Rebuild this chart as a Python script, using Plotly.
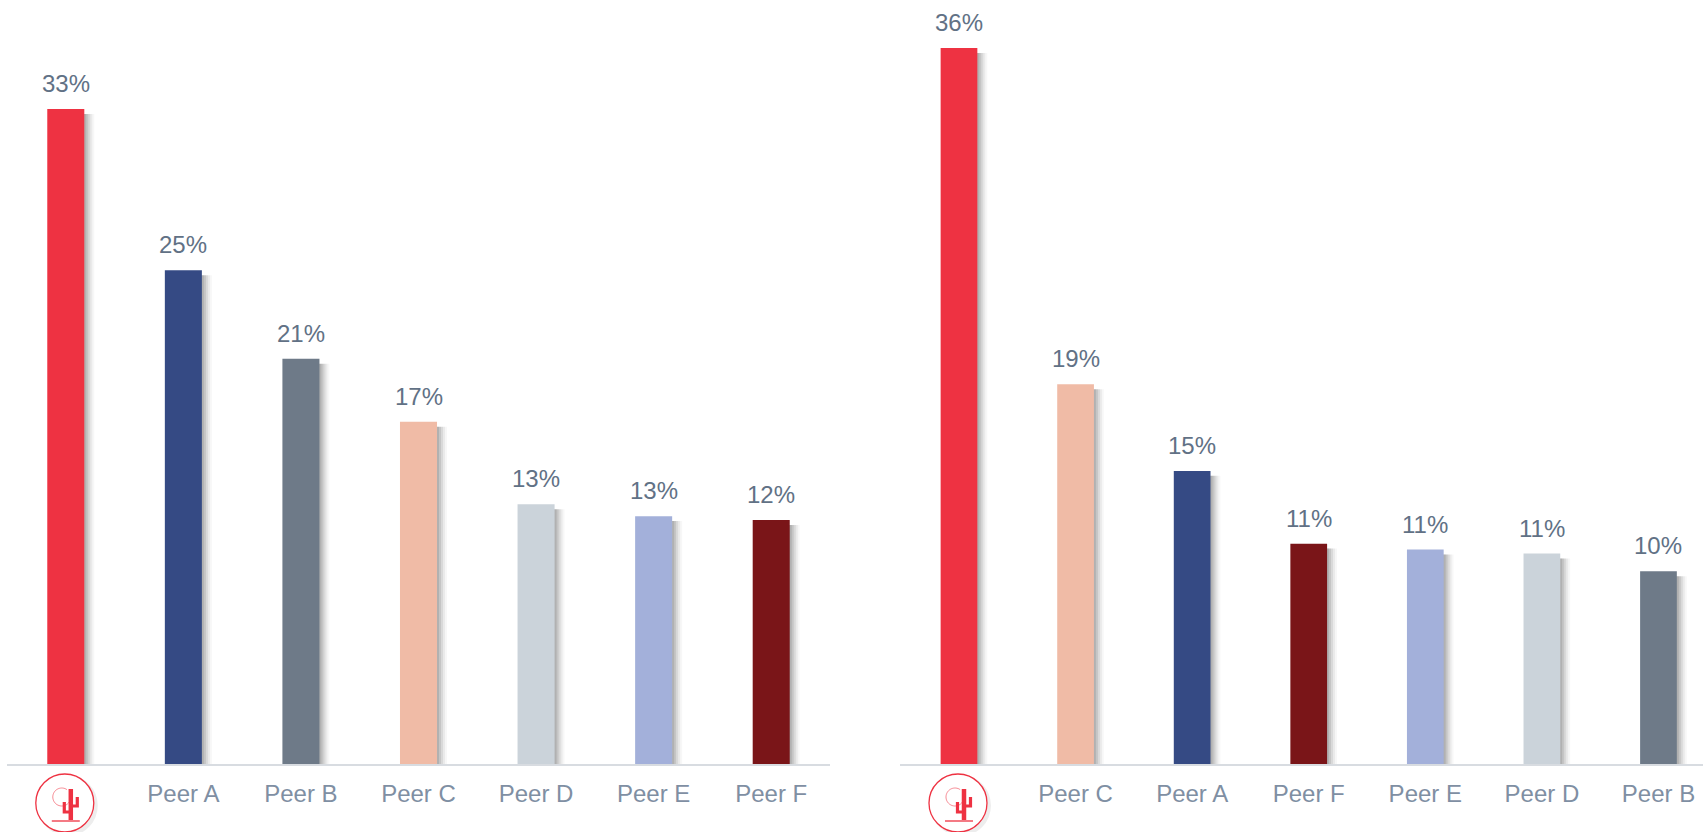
import numpy as np
import plotly.graph_objects as go

# ---- data -------------------------------------------------------------
left_labels = ["", "Peer A", "Peer B", "Peer C", "Peer D", "Peer E", "Peer F"]
left_values = [33.3, 25.1, 20.6, 17.4, 13.2, 12.6, 12.4]

right_labels = ["", "Peer C", "Peer A", "Peer F", "Peer E", "Peer D", "Peer B"]
right_values = [36.4, 19.3, 14.9, 11.2, 10.9, 10.7, 9.8]

palette = {
    "": "#EE3242",
    "Peer A": "#354A84",
    "Peer B": "#6E7A88",
    "Peer C": "#F0BBA6",
    "Peer D": "#CBD3DA",
    "Peer E": "#A3B0DA",
    "Peer F": "#7A1518",
}

# ---- styling ----------------------------------------------------------
W, H = 1703, 832
BAR_W = 0.315
Y_MAX = 38.84
CAT_PX = 117.5
LABEL_COLOR = "#617185"
TICK_COLOR = "#7F8FA3"
AXIS_COLOR = "#D8DCE1"
BRAND_RED = "#EE3242"
FONT = "Liberation Sans, Arial, sans-serif"
FONT_SIZE = 24

fig = go.Figure()


def add_panel(labels, values, xa, ya):
    xs = list(range(len(labels)))
    # soft drop shadow to the right of every bar
    for dx, alpha in [(2, 0.10), (4, 0.09), (6, 0.07), (8, 0.05), (10, 0.03)]:
        fig.add_trace(go.Bar(
            x=xs, y=[v - 0.25 for v in values], width=BAR_W,
            offset=-BAR_W / 2 + dx / CAT_PX,
            marker=dict(color=f"rgba(0,0,0,{alpha})", line=dict(width=0)),
            xaxis=xa, yaxis=ya, hoverinfo="skip", showlegend=False,
        ))
    fig.add_trace(go.Bar(
        x=xs, y=values, width=BAR_W, offset=-BAR_W / 2,
        marker=dict(color=[palette[l] for l in labels], line=dict(width=0)),
        xaxis=xa, yaxis=ya, showlegend=False,
        hovertemplate="%{y:.0f}%<extra></extra>",
    ))
    for i, v in enumerate(values):
        fig.add_annotation(
            x=i, y=v, xref=xa, yref=ya, text=f"{v:.0f}%", showarrow=False,
            yanchor="bottom", yshift=10,
            font=dict(family=FONT, size=FONT_SIZE, color=LABEL_COLOR),
        )


add_panel(left_labels, left_values, "x", "y")
add_panel(right_labels, right_values, "x2", "y2")


def logo_shapes(xref):
    """Round cactus badge placed under the first category of a panel."""
    base = dict(xref=xref, yref="paper", xanchor=0, yanchor=0,
                xsizemode="pixel", ysizemode="pixel")
    cx, cy, r = -1, -39, 29
    shapes = [
        dict(type="circle", x0=cx - r + 2, x1=cx + r + 4, y0=cy - r - 4, y1=cy + r - 1,
             fillcolor="rgba(0,0,0,0.07)", line=dict(width=0), **base),
        dict(type="circle", x0=cx - r, x1=cx + r, y0=cy - r, y1=cy + r,
             fillcolor="white", line=dict(color=BRAND_RED, width=1.3), **base),
    ]
    # thin swirl behind the cactus
    ang = np.linspace(np.radians(55), np.radians(55 + 285), 40)
    sx = -4 + 9 * np.cos(ang)
    sy = -33 + 9 * np.sin(ang)
    swirl = "M " + " L ".join(f"{a:.2f},{b:.2f}" for a, b in zip(sx, sy))
    shapes.append(dict(type="path", path=swirl,
                       line=dict(color="rgba(238,50,66,0.7)", width=0.8), **base))
    # cactus body, arms and ground
    cactus = [
        ("M 5,-25 L 5,-56", 4.5),
        ("M -1.5,-38 L -1.5,-48 L 5,-48", 3.2),
        ("M 11.5,-33 L 11.5,-42 L 5,-42", 3.2),
        ("M -14,-57 L 14,-57", 1.3),
    ]
    for p, w in cactus:
        shapes.append(dict(type="path", path=p,
                           line=dict(color=BRAND_RED, width=w), **base))
    return shapes


xaxis_common = dict(
    showline=True, linecolor=AXIS_COLOR, linewidth=2, showgrid=False,
    zeroline=False, ticks="", tickmode="array", tickvals=list(range(7)),
    tickfont=dict(family=FONT, size=FONT_SIZE, color=TICK_COLOR),
    ticklabelstandoff=7, fixedrange=True,
)
yaxis_common = dict(range=[0, Y_MAX], visible=False, fixedrange=True)

fig.update_layout(
    width=W, height=H, barmode="overlay",
    margin=dict(l=0, r=0, t=0, b=68),
    paper_bgcolor="white", plot_bgcolor="white",
    xaxis=dict(domain=[7 / W, 830 / W], range=[-0.5, 6.5],
               ticktext=left_labels, anchor="y", **xaxis_common),
    yaxis=dict(domain=[0, 1], anchor="x", **yaxis_common),
    xaxis2=dict(domain=[900 / W, 1], range=[-0.506, 6.382],
                ticktext=right_labels, anchor="y2", **xaxis_common),
    yaxis2=dict(domain=[0, 1], anchor="x2", **yaxis_common),
    shapes=logo_shapes("x") + logo_shapes("x2"),
    font=dict(family=FONT),
)

fig.write_html("out.html", config={"displayModeBar": False})
